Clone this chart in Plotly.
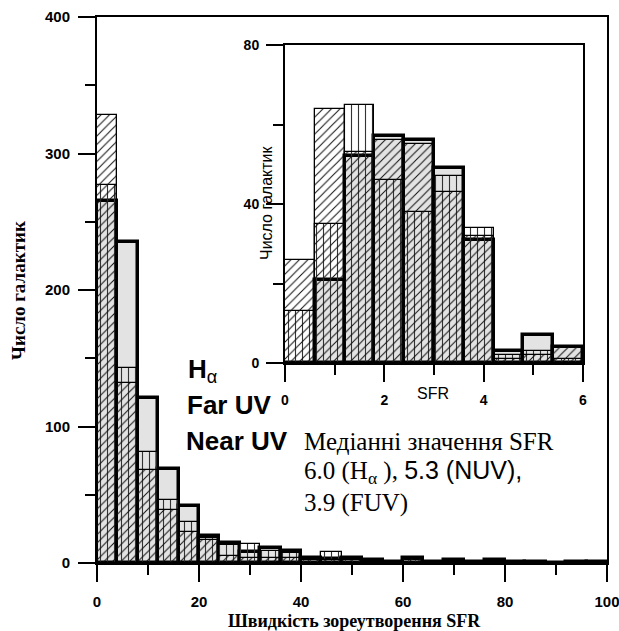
import plotly.graph_objects as go

# ---------------- data ----------------
main_edges = list(range(0, 100, 4))          # left edges, bin width 4
main_width = 4
main_nuv = [265, 235, 121, 69, 42, 20, 15, 8, 11, 9, 4, 3, 4, 2, 1, 4, 1, 2, 1, 2, 1, 1, 0, 1, 1]
main_fuv = [277, 143, 81, 46, 30, 18, 13, 14, 9, 7, 3, 8, 2, 1, 1, 2, 0, 1, 1, 1, 0, 1, 0, 1, 0]
main_ha  = [328, 132, 68, 39, 23, 17, 5, 4, 4, 4, 2, 2, 2, 1, 1, 3, 0, 1, 0, 1, 0, 0, 0, 1, 1]

ins_edges = [0.0, 0.6, 1.2, 1.8, 2.4, 3.0, 3.6, 4.2, 4.8, 5.4]
ins_width = 0.6
ins_nuv = [0, 21, 52, 57, 56, 49, 31, 3, 7, 4]
ins_fuv = [13, 35, 65, 46, 38, 47, 34, 2, 3, 1]
ins_ha  = [26, 64, 53, 56, 55, 43, 32, 1, 2, 4]

main_xticks = [0, 20, 40, 60, 80, 100]
main_yticks = [0, 100, 200, 300, 400]
ins_xticks = [0, 2, 4, 6]
ins_yticks = [0, 40, 80]

# ---------------- geometry helpers ----------------
L, R, T, B = 97, 607, 17, 563
W, H = 619, 631
def px(x):
    return (x - L) / (R - L)
def py(y):
    return (B - y) / (B - T)

SANS = "Liberation Sans"
SERIF = "Liberation Serif"

fig = go.Figure()

def add_set(edges, width, nuv, fuv, ha, xa, ya, thick):
    centers = [e + width / 2 for e in edges]
    fig.add_trace(go.Bar(x=centers, y=nuv, width=width, xaxis=xa, yaxis=ya,
                         marker=dict(color="#e3e3e3", line=dict(color="black", width=thick)),
                         showlegend=False, hoverinfo="skip"))
    fig.add_trace(go.Bar(x=centers, y=fuv, width=width, xaxis=xa, yaxis=ya,
                         marker=dict(color="black",
                                     pattern=dict(shape="|", size=7, solidity=0.16,
                                                  fgcolor="#333333", bgcolor="rgba(0,0,0,0)",
                                                  fillmode="replace"),
                                     line=dict(color="black", width=1.3)),
                         showlegend=False, hoverinfo="skip"))
    fig.add_trace(go.Bar(x=centers, y=ha, width=width, xaxis=xa, yaxis=ya,
                         marker=dict(color="black",
                                     pattern=dict(shape="/", size=6, solidity=0.17,
                                                  fgcolor="#111111", bgcolor="rgba(0,0,0,0)",
                                                  fillmode="replace"),
                                     line=dict(color="black", width=1.3)),
                         showlegend=False, hoverinfo="skip"))

add_set(main_edges, main_width, main_nuv, main_fuv, main_ha, "x", "y", 3.5)
add_set(ins_edges, ins_width, ins_nuv, ins_fuv, ins_ha, "x2", "y2", 3.5)

axis_common = dict(showline=True, linewidth=2, linecolor="black", mirror=True,
                   ticks="outside", ticklen=17, tickwidth=2, tickcolor="black",
                   showgrid=False, zeroline=False, automargin=False, fixedrange=True,
                   ticklabeloverflow="allow")

fig.update_layout(
    width=W, height=H,
    margin=dict(l=L, r=W - R, t=T, b=H - B),
    paper_bgcolor="white", plot_bgcolor="white",
    barmode="overlay", bargap=0,
    showlegend=False,
    xaxis=dict(domain=[0, 1], range=[0, 100], tickvals=main_xticks,
               minor=dict(dtick=10, tick0=0, ticklen=10, tickwidth=2, tickcolor="black", ticks="outside"),
               tickfont=dict(family=SANS, size=15, color="black", weight="bold"),
               ticklabelstandoff=7, anchor="y", **axis_common),
    yaxis=dict(domain=[0, 1], range=[0, 400], tickvals=main_yticks,
               minor=dict(dtick=50, tick0=0, ticklen=10, tickwidth=2, tickcolor="black", ticks="outside"),
               tickfont=dict(family=SANS, size=15, color="black", weight="bold"),
               ticklabelstandoff=5, anchor="x", **axis_common),
    xaxis2=dict(domain=[px(285), px(583)], range=[0, 6], tickvals=ins_xticks,
                minor=dict(dtick=1, tick0=0, ticklen=10, tickwidth=2, tickcolor="black", ticks="outside"),
                tickfont=dict(family=SANS, size=14, color="black", weight="bold"),
                ticklabelstandoff=6, anchor="y2", **axis_common),
    yaxis2=dict(domain=[py(363), py(45)], range=[0, 80], tickvals=ins_yticks,
                minor=dict(dtick=20, tick0=0, ticklen=10, tickwidth=2, tickcolor="black", ticks="outside"),
                tickfont=dict(family=SANS, size=14, color="black", weight="bold"),
                ticklabelstandoff=4, anchor="x2", **axis_common),
)

def ann(text, x, y, family, size, bold=False, angle=0, xanchor="center", yanchor="middle"):
    fig.add_annotation(text=text, x=px(x), y=py(y), xref="paper", yref="paper",
                       showarrow=False, textangle=angle, xanchor=xanchor, yanchor=yanchor,
                       font=dict(family=family, size=size, color="black",
                                 weight="bold" if bold else "normal"))

# axis titles
ann("Число галактик", 18, 291, SERIF, 19, bold=True, angle=-90)
ann("Швидкість зореутворення SFR", 354, 621, SERIF, 18, bold=True)
ann("Число галактик", 266, 203, SANS, 16, angle=-90)
ann("SFR", 433, 393, SANS, 16)

# series labels
ann("<b>H</b><sub>α</sub>", 186, 371, SANS, 26, xanchor="left")
ann("<b>Far UV</b>", 185, 405, SANS, 26, xanchor="left")
ann("<b>Near UV</b>", 184, 441, SANS, 26, xanchor="left")

# median text
ann("Медіанні значення SFR", 302, 441, SERIF, 25, xanchor="left")
ann("6.0 (H<sub>α</sub> ), <span style='font-family:Liberation Sans'>5.3 (NUV),</span>",
    302, 472, SERIF, 25, xanchor="left")
ann("3.9 (FUV)", 302, 503, SERIF, 25, xanchor="left")

fig.write_html("out.html")
